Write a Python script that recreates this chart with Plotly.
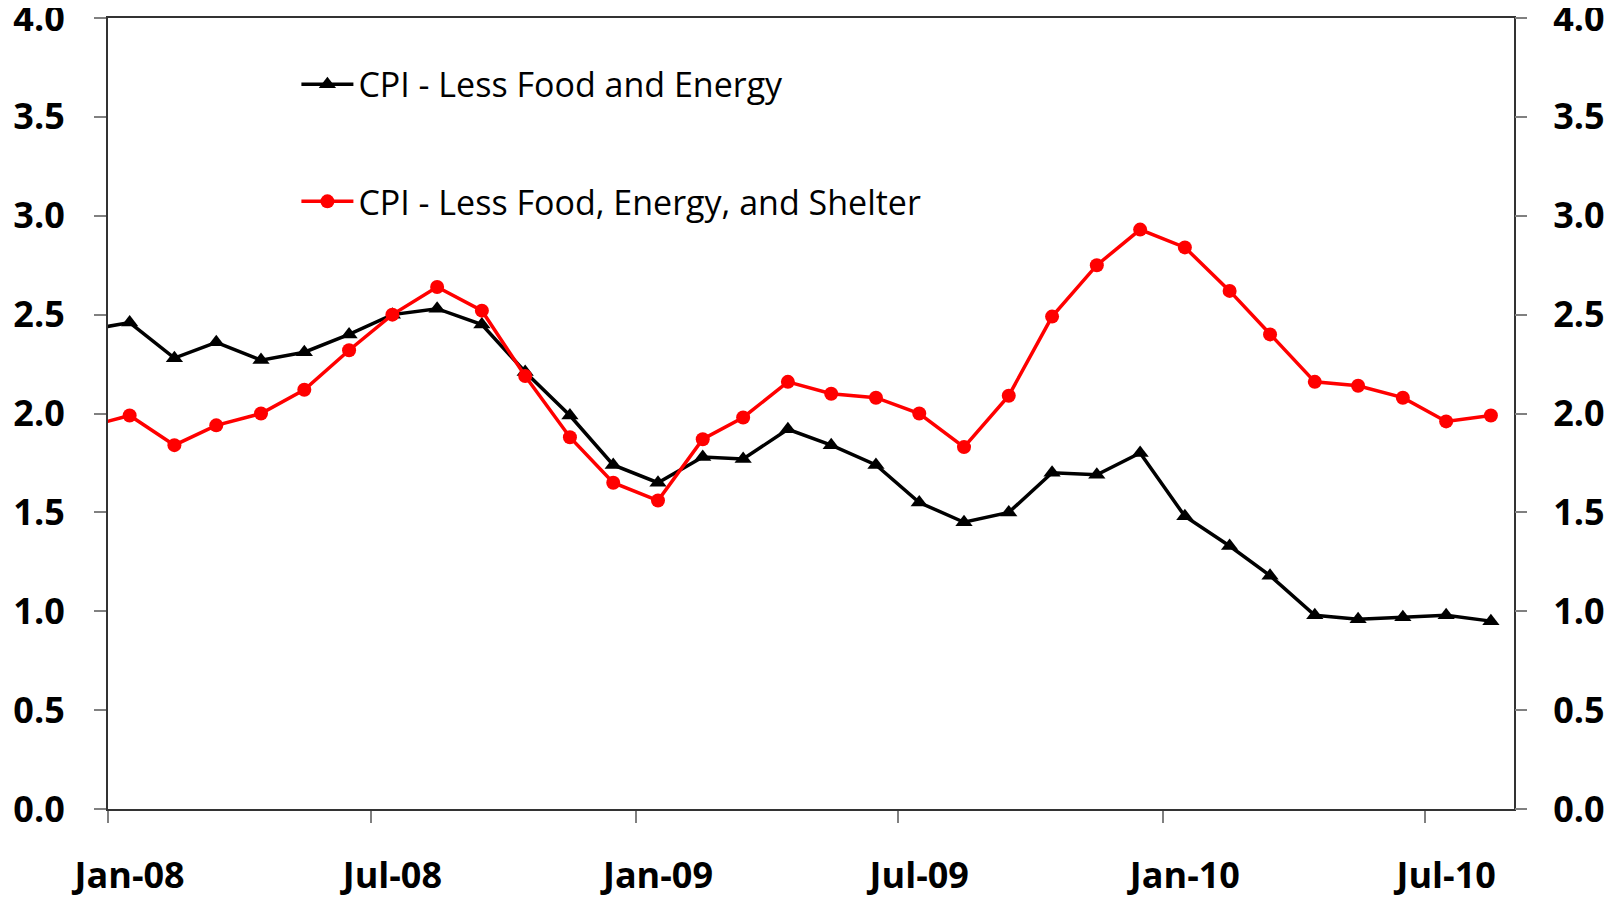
import pandas as pd
import plotly.graph_objects as go

# monthly points, Dec-07 .. Aug-10 (Dec-07 sits just left of the axis and gets clipped)
months = pd.date_range("2007-12-01", periods=33, freq="MS") + pd.Timedelta(days=15)

core = [2.42,
        2.46, 2.28, 2.36, 2.27, 2.31, 2.40, 2.50, 2.53, 2.45, 2.21, 1.99, 1.74,
        1.65, 1.78, 1.77, 1.92, 1.84, 1.74, 1.55, 1.45, 1.50, 1.70, 1.69, 1.80,
        1.48, 1.33, 1.18, 0.98, 0.96, 0.97, 0.98, 0.95]

core_ex_shelter = [1.93,
        1.99, 1.84, 1.94, 2.00, 2.12, 2.32, 2.50, 2.64, 2.52, 2.19, 1.88, 1.65,
        1.56, 1.87, 1.98, 2.16, 2.10, 2.08, 2.00, 1.83, 2.09, 2.49, 2.75, 2.93,
        2.84, 2.62, 2.40, 2.16, 2.14, 2.08, 1.96, 1.99]

# tick marks at month start, labels centred on the month
tick_marks = ["2008-01-01", "2008-07-01", "2009-01-01", "2009-07-01", "2010-01-01", "2010-07-01"]
label_dates = ["2008-01-16", "2008-07-16", "2009-01-16", "2009-07-16", "2010-01-16", "2010-07-16"]
tick_text = ["Jan-08", "Jul-08", "Jan-09", "Jul-09", "Jan-10", "Jul-10"]
y_ticks = [0, 0.5, 1, 1.5, 2, 2.5, 3, 3.5, 4]
y_text = ["%.1f" % v for v in y_ticks]

font = "Open Sans"

fig = go.Figure()
fig.add_trace(go.Scatter(
    x=months, y=core, mode="lines+markers", name="CPI - Less Food and Energy",
    line=dict(color="black", width=3.5),
    marker=dict(symbol="triangle-up", size=15, color="black"),
    legendgroup="a",
))
fig.add_trace(go.Scatter(
    x=months, y=core_ex_shelter, mode="lines+markers", name="CPI - Less Food, Energy, and Shelter",
    line=dict(color="#ff0000", width=3.5),
    marker=dict(symbol="circle", size=14, color="#ff0000"),
    legendgroup="b",
))
# invisible trace so the right-hand axis is drawn
fig.add_trace(go.Scatter(x=[months[1]], y=[None], yaxis="y2", showlegend=False, hoverinfo="skip"))

axis_font = dict(family=font, size=36, color="black", weight=700)

# page body adds an 8px offset, so the figure is 8px smaller than the window
fig.update_layout(
    width=1616, height=890,
    margin=dict(l=100, r=110, t=10, b=89),
    paper_bgcolor="white", plot_bgcolor="white",
    font=dict(family=font, color="black"),
    showlegend=True,
    legend=dict(
        x=0.134, y=0.9525, xanchor="left", yanchor="top",
        font=dict(family=font, size=34, color="black"),
        bgcolor="rgba(0,0,0,0)", tracegroupgap=70, itemwidth=52,
        traceorder="grouped",
    ),
    xaxis=dict(
        type="date", range=["2008-01-01", "2010-09-01"],
        tickvals=label_dates, ticktext=tick_text, ticks="",
        minor=dict(tickvals=tick_marks, ticks="outside", ticklen=12,
                   tickcolor="#808080", tickwidth=1.5, showgrid=False),
        tickfont=axis_font, ticklabelstandoff=34, automargin=False,
        ticklabeloverflow="allow",
        showline=True, linecolor="#333333", linewidth=2, mirror=True,
        showgrid=False, zeroline=False,
    ),
    yaxis=dict(
        range=[0, 4], tickvals=y_ticks, ticktext=y_text,
        ticks="outside", ticklen=12, tickcolor="#808080", tickwidth=1.5,
        tickfont=axis_font, ticklabelstandoff=22, automargin=False,
        ticklabeloverflow="allow",
        showline=True, linecolor="#333333", linewidth=2, mirror=True,
        showgrid=False, zeroline=False,
    ),
    yaxis2=dict(
        overlaying="y", side="right", range=[0, 4], tickvals=y_ticks, ticktext=y_text,
        ticks="outside", ticklen=12, tickcolor="#808080", tickwidth=1.5,
        tickfont=axis_font, ticklabelstandoff=19, automargin=False,
        ticklabeloverflow="allow",
        showline=False, showgrid=False, zeroline=False,
    ),
)

fig.write_html("out.html")
